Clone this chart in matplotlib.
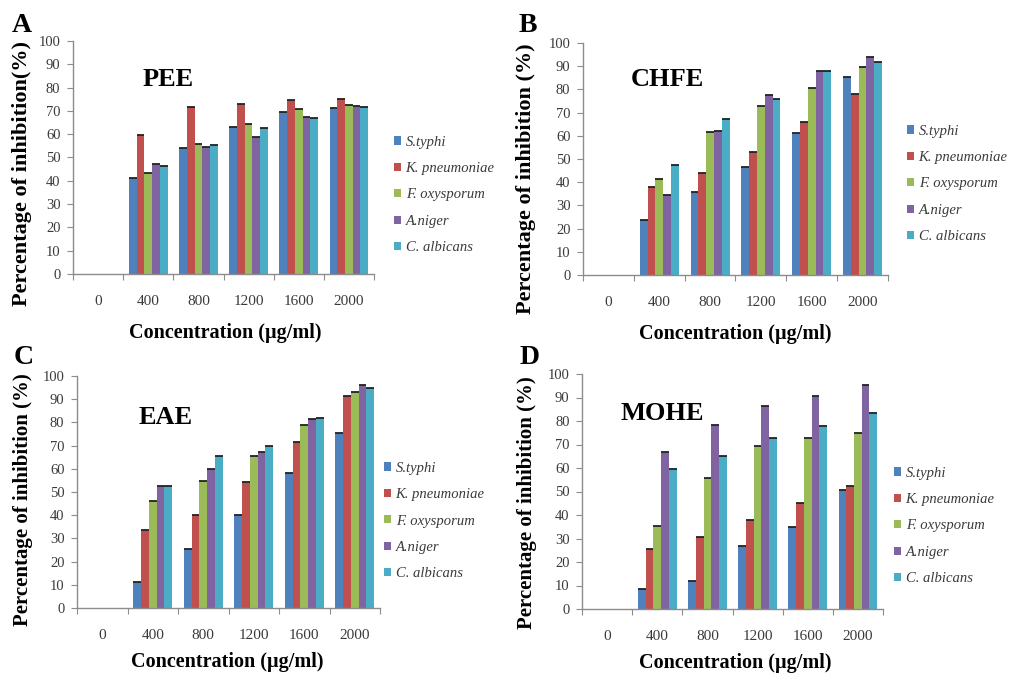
import matplotlib
matplotlib.use("Agg")
import matplotlib.pyplot as plt
from matplotlib.patches import Patch
import numpy as np

plt.rcParams['font.family'] = ['Liberation Serif', 'DejaVu Serif']

categories = ["0", "400", "800", "1200", "1600", "2000"]
organisms = ["S.typhi", "K. pneumoniae", "F. oxysporum", "A.niger", "C. albicans"]
colors = ["#4F81BD", "#C0504D", "#9BBB59", "#8064A2", "#4BACC6"]

# values per organism for concentrations 0,400,800,1200,1600,2000
pee_styphi = [0, 41.2, 54.1, 63.1, 69.6, 71.2]
pee_kpneu = [0, 59.6, 71.7, 72.8, 74.8, 75.2]
pee_foxy = [0, 43.3, 56.0, 64.3, 70.7, 72.7]
pee_aniger = [0, 47.0, 54.5, 59.0, 67.5, 72.1]
pee_calb = [0, 46.5, 55.5, 62.7, 67.1, 71.6]

chfe_styphi = [0, 23.8, 35.6, 46.4, 61.1, 85.2]
chfe_kpneu = [0, 38.1, 43.8, 53.0, 65.8, 77.9]
chfe_foxy = [0, 41.2, 61.7, 72.9, 80.6, 89.8]
chfe_aniger = [0, 34.6, 62.1, 77.5, 87.8, 93.9]
chfe_calb = [0, 47.4, 67.3, 75.9, 87.8, 91.9]

eae_styphi = [0, 11.0, 25.3, 39.9, 58.3, 75.3]
eae_kpneu = [0, 33.8, 39.9, 54.1, 71.5, 91.4]
eae_foxy = [0, 46.0, 54.6, 65.4, 78.7, 93.3]
eae_aniger = [0, 52.5, 59.7, 67.3, 81.4, 96.1]
eae_calb = [0, 52.5, 65.5, 69.8, 82.0, 94.8]

mohe_styphi = [0, 8.5, 11.9, 26.8, 34.8, 50.5]
mohe_kpneu = [0, 25.4, 30.6, 37.7, 45.3, 52.3]
mohe_foxy = [0, 35.3, 55.7, 69.5, 72.9, 74.9]
mohe_aniger = [0, 66.8, 78.2, 86.3, 90.6, 95.4]
mohe_calb = [0, 59.5, 65.3, 72.9, 77.7, 83.3]

panels = [
    dict(letter="A", title="PEE", ylabel="Percentage of inhibition(%)",
         data=[pee_styphi, pee_kpneu, pee_foxy, pee_aniger, pee_calb]),
    dict(letter="B", title="CHFE", ylabel="Percentage of inhibition (%)",
         data=[chfe_styphi, chfe_kpneu, chfe_foxy, chfe_aniger, chfe_calb]),
    dict(letter="C", title="EAE", ylabel="Percentage of inhibition (%)",
         data=[eae_styphi, eae_kpneu, eae_foxy, eae_aniger, eae_calb]),
    dict(letter="D", title="MOHE", ylabel="Percentage of inhibition (%)",
         data=[mohe_styphi, mohe_kpneu, mohe_foxy, mohe_aniger, mohe_calb]),
]

W, H = 1010, 674
fig = plt.figure(figsize=(W / 100, H / 100), dpi=100)

def fx(px):
    return px / W

def fy(py):
    return 1 - py / H

# layout in pixels
layout = [
    dict(ax=(73, 374, 41, 274), letter=(12, 26), title=(168, 80), ylab=(22, 173), ylfs=16,
         xlab=(225, 333), leg=(394, 195)),
    dict(ax=(583, 888, 43, 275), letter=(519, 26), title=(667, 80), ylab=(526, 179), ylfs=16,
         xlab=(735, 334), leg=(907, 184)),
    dict(ax=(77, 380, 376, 608), letter=(14, 357), title=(166, 417), ylab=(23, 500), ylfs=15,
         xlab=(227, 662), leg=(384, 521)),
    dict(ax=(582, 883, 374, 609), letter=(520, 357), title=(662, 413), ylab=(527, 503), ylfs=15,
         xlab=(735, 663), leg=(894, 526)),
]

x = np.arange(len(categories))
n = len(organisms)
group = 1 / 1.3
w = group / n
grey = "#8c8c8c"
txtc = "#3a3a3a"

for p, L in zip(panels, layout):
    l, r, t, b = L["ax"]
    ax = fig.add_axes([fx(l), fy(b), fx(r - l), (b - t) / H])
    for i in range(n):
        xs = x - group / 2 + w * (i + 0.5)
        vals = np.array(p["data"][i])
        ax.bar(xs, vals, width=w, color=colors[i], edgecolor="none", zorder=2)
        mask = vals > 0
        ax.hlines(vals[mask], xs[mask] - w / 2, xs[mask] + w / 2, color="#222222", lw=1.3, zorder=3)
    ax.set_xlim(-0.5, len(categories) - 0.5)
    ax.set_ylim(0, 100)
    ax.set_yticks(np.arange(0, 101, 10))
    ax.set_xticks(np.arange(-0.5, len(categories), 1.0))
    ax.set_xticklabels([])
    ax.set_xticks(x, minor=True)
    ax.set_xticklabels(categories, minor=True)
    ax.tick_params(axis="x", which="minor", length=0, pad=15, labelsize=11, labelcolor=txtc)
    ax.tick_params(axis="x", which="major", length=4, direction="out", color=grey)
    ax.tick_params(axis="y", length=4, direction="out", color=grey, labelsize=10.5, labelcolor=txtc, pad=5)
    for s in ["top", "right"]:
        ax.spines[s].set_visible(False)
    for s in ["left", "bottom"]:
        ax.spines[s].set_color(grey)
        ax.spines[s].set_linewidth(1.0)
    ax.patch.set_alpha(0)

    fig.text(fx(L["letter"][0]), fy(L["letter"][1]), p["letter"], fontsize=20, fontweight="bold",
             ha="left", va="center")
    fig.text(fx(L["title"][0]), fy(L["title"][1]), p["title"], fontsize=19, fontweight="bold",
             ha="center", va="center")
    fig.text(fx(L["ylab"][0]), fy(L["ylab"][1]), p["ylabel"], fontsize=L["ylfs"], fontweight="bold",
             rotation=90, ha="center", va="center")
    fig.text(fx(L["xlab"][0]), fy(L["xlab"][1]), "Concentration (µg/ml)", fontsize=14.5,
             fontweight="bold", ha="center", va="center")
    handles = [Patch(facecolor=c, edgecolor="none") for c in colors]
    fig.legend(handles, organisms, loc="center left", bbox_to_anchor=(fx(L["leg"][0]), fy(L["leg"][1])),
               frameon=False, prop=dict(family="Liberation Serif", style="italic", size=10.5),
               handlelength=0.5, handleheight=0.5, handletextpad=0.3, labelspacing=0.92,
               borderpad=0, borderaxespad=0, labelcolor=txtc)

fig.savefig("out.png", dpi=100)
